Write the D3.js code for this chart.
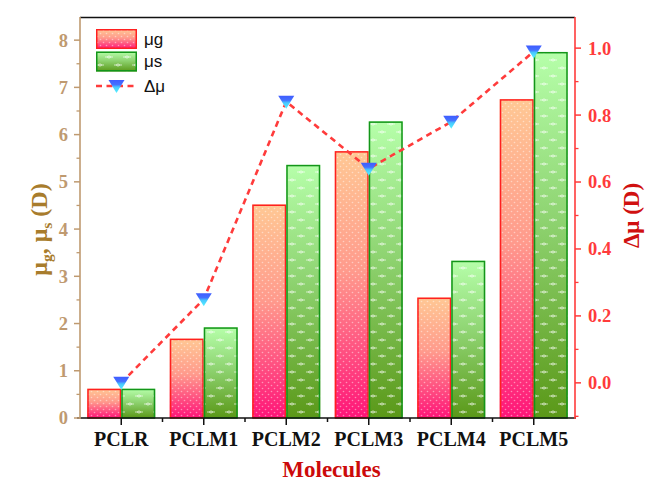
<!DOCTYPE html>
<html>
<head>
<meta charset="utf-8">
<script src="https://cdn.jsdelivr.net/npm/d3@7"></script>
<style>
  html, body { margin: 0; padding: 0; background: #fff; }
  svg { display: block; }
</style>
</head>
<body>
<svg id="chart" width="648" height="486"></svg>
<script>
// Dipole moments of the molecules (Debye)
const categories = ["PCLR", "PCLM1", "PCLM2", "PCLM3", "PCLM4", "PCLM5"];
const muG = [0.62, 1.68, 4.52, 5.65, 2.55, 6.75];
const muS = [0.62, 1.92, 5.36, 6.28, 3.33, 7.75];
const deltaMu = [0.00, 0.25, 0.84, 0.64, 0.78, 0.99];
const leftTicks = [0, 1, 2, 3, 4, 5, 6, 7, 8];
const rightTicks = [0.0, 0.2, 0.4, 0.6, 0.8, 1.0];
const seriesNames = ["μg", "μs"];

const svg = d3.select("#chart");
const L = 80, R = 575, T = 17, B = 418;
const serif = "'Liberation Serif', 'Times New Roman', serif";
const tan = "#bf9a70";
const red = "#ff3b3b";

const x = d3.scaleBand().domain(categories).range([L, R]).paddingInner(0.176).paddingOuter(0.088);
const xs = d3.scaleBand().domain(seriesNames).range([0, x.bandwidth()]);
const yL = d3.scaleLinear().domain([0, 8.49]).range([B, T]);
const yR = d3.scaleLinear().domain([-0.105, 1.093]).range([B, T]);

// ----- gradients and textures -----
const defs = svg.append("defs");
function vgrad(id, stops) {
  const g = defs.append("linearGradient").attr("id", id)
    .attr("x1", 0).attr("y1", 0).attr("x2", 0).attr("y2", 1);
  stops.forEach(([o, c]) => g.append("stop").attr("offset", o).attr("stop-color", c));
}
vgrad("gradG", [[0, "#ffc894"], [0.45, "#ff9a8c"], [1, "#ff1478"]]);
vgrad("gradS", [[0, "#b6ffaa"], [0.45, "#8fd472"], [1, "#5a9818"]]);
vgrad("gradTri", [[0, "#3f5cff"], [0.35, "#4470ff"], [0.55, "#48c8ff"], [1, "#55f2ff"]]);

const pDots = defs.append("pattern").attr("id", "dotsG")
  .attr("patternUnits", "userSpaceOnUse").attr("width", 6).attr("height", 6);
pDots.append("circle").attr("cx", 1.5).attr("cy", 1.5).attr("r", 0.8).attr("fill", "#fff").attr("opacity", 0.45);
pDots.append("circle").attr("cx", 4.5).attr("cy", 4.5).attr("r", 0.8).attr("fill", "#fff").attr("opacity", 0.45);

const pDash = defs.append("pattern").attr("id", "dashS")
  .attr("patternUnits", "userSpaceOnUse").attr("width", 18).attr("height", 16);
[[4, 4], [13, 12]].forEach(([cx, cy]) => {
  pDash.append("line").attr("x1", cx - 4).attr("x2", cx + 4).attr("y1", cy).attr("y2", cy)
    .attr("stroke", "#fff").attr("stroke-width", 0.9).attr("opacity", 0.7);
  pDash.append("path").attr("d", `M${cx - 1.8},${cy}L${cx},${cy - 1.3}L${cx + 1.8},${cy}L${cx},${cy + 1.3}Z`)
    .attr("fill", "none").attr("stroke", "#fff").attr("stroke-width", 0.7).attr("opacity", 0.75);
});

// ----- bars -----
const rows = categories.map((c, i) => ({ c, g: muG[i], s: muS[i], d: deltaMu[i] }));
const barSpec = [
  { key: "μg", val: r => r.g, fill: "url(#gradG)", tex: "url(#dotsG)", stroke: "#ff2020" },
  { key: "μs", val: r => r.s, fill: "url(#gradS)", tex: "url(#dashS)", stroke: "#13951a" }
];
const bars = svg.append("g");
barSpec.forEach(sp => {
  const g = bars.append("g");
  rows.forEach(r => {
    const bx = x(r.c) + xs(sp.key), bw = xs.bandwidth();
    const by = yL(sp.val(r)), bh = yL(0) - yL(sp.val(r));
    g.append("rect").attr("x", bx).attr("y", by).attr("width", bw).attr("height", bh).attr("fill", sp.fill);
    g.append("rect").attr("x", bx).attr("y", by).attr("width", bw).attr("height", bh).attr("fill", sp.tex);
    g.append("rect").attr("x", bx + 0.75).attr("y", by + 0.75).attr("width", bw - 1.5).attr("height", Math.max(0, bh - 0.75))
      .attr("fill", "none").attr("stroke", sp.stroke).attr("stroke-width", 1.5);
  });
});

// ----- Δμ line with markers -----
const cx = c => x(c) + x.bandwidth() / 2;
const line = d3.line().x(r => cx(r.c)).y(r => yR(r.d));
svg.append("path").datum(rows).attr("d", line)
  .attr("fill", "none").attr("stroke", red).attr("stroke-width", 2.6).attr("stroke-dasharray", "6,4.5");
const tri = "M-8,-6L8,-6L0,7Z";
svg.append("g").selectAll("path").data(rows).join("path")
  .attr("transform", r => `translate(${cx(r.c)},${yR(r.d)})`)
  .attr("d", tri).attr("fill", "url(#gradTri)");

// ----- axes -----
// top frame
svg.append("line").attr("x1", L).attr("x2", R).attr("y1", T + 0.5).attr("y2", T + 0.5)
  .attr("stroke", "#111").attr("stroke-width", 1.5);

// bottom axis
const xAxis = svg.append("g").attr("transform", `translate(0,${B})`);
xAxis.append("line").attr("x1", L - 3).attr("x2", R + 1).attr("stroke", "#111").attr("stroke-width", 1.6);
xAxis.selectAll(".maj").data(categories).join("line")
  .attr("x1", d => cx(d)).attr("x2", d => cx(d)).attr("y1", 0).attr("y2", 7)
  .attr("stroke", "#111").attr("stroke-width", 1.5);
xAxis.selectAll(".min").data(categories.slice(1)).join("line")
  .attr("x1", d => x(d) - x.step() * x.paddingInner() / 2).attr("x2", d => x(d) - x.step() * x.paddingInner() / 2)
  .attr("y1", 0).attr("y2", 4).attr("stroke", "#111").attr("stroke-width", 1.5);
xAxis.selectAll("text").data(categories).join("text")
  .attr("x", d => cx(d)).attr("y", 28).attr("text-anchor", "middle")
  .attr("font-family", serif).attr("font-weight", "bold").attr("font-size", 20).attr("fill", "#111")
  .text(d => d);

// left axis
const lAxis = svg.append("g").attr("transform", `translate(${L},0)`);
lAxis.append("line").attr("y1", T).attr("y2", B + 1).attr("stroke", tan).attr("stroke-width", 1.6);
lAxis.selectAll(".maj").data(leftTicks).join("line")
  .attr("x1", 0).attr("x2", -6).attr("y1", d => yL(d)).attr("y2", d => yL(d))
  .attr("stroke", tan).attr("stroke-width", 1.5);
lAxis.selectAll(".min").data(d3.range(0.5, 8.5, 1)).join("line")
  .attr("x1", 0).attr("x2", -3.5).attr("y1", d => yL(d)).attr("y2", d => yL(d))
  .attr("stroke", tan).attr("stroke-width", 1.3);
lAxis.selectAll("text").data(leftTicks).join("text")
  .attr("x", -12).attr("y", d => yL(d)).attr("dy", "0.35em").attr("text-anchor", "end")
  .attr("font-family", serif).attr("font-weight", "bold").attr("font-size", 18.5).attr("fill", tan)
  .text(d => d);

// right axis
const rAxis = svg.append("g").attr("transform", `translate(${R},0)`);
rAxis.append("line").attr("y1", T).attr("y2", B + 1).attr("stroke", red).attr("stroke-width", 1.6);
rAxis.selectAll(".maj").data(rightTicks).join("line")
  .attr("x1", 0).attr("x2", 6).attr("y1", d => yR(d)).attr("y2", d => yR(d))
  .attr("stroke", red).attr("stroke-width", 1.5);
rAxis.selectAll(".min").data(d3.range(-0.1, 1.05, 0.2)).join("line")
  .attr("x1", 0).attr("x2", 3.5).attr("y1", d => yR(d)).attr("y2", d => yR(d))
  .attr("stroke", red).attr("stroke-width", 1.3);
rAxis.selectAll("text").data(rightTicks).join("text")
  .attr("x", 13).attr("y", d => yR(d)).attr("dy", "0.35em").attr("text-anchor", "start")
  .attr("font-family", serif).attr("font-weight", "bold").attr("font-size", 18.5).attr("fill", red)
  .text(d => d3.format(".1f")(d));

// axis titles
svg.append("text").attr("x", (L + R) / 2 + 4).attr("y", 477).attr("text-anchor", "middle")
  .attr("font-family", serif).attr("font-weight", "bold").attr("font-size", 23).attr("fill", "#cc0a0a")
  .text("Molecules");

const lt = svg.append("text").attr("transform", `translate(47,${(T + B) / 2 + 12}) rotate(-90)`)
  .attr("text-anchor", "middle").attr("font-family", serif).attr("font-weight", "bold")
  .attr("font-size", 24).attr("fill", "#a87c2c");
lt.append("tspan").text("μ");
lt.append("tspan").attr("font-size", 15.5).attr("dy", 5).text("g");
lt.append("tspan").attr("dy", -5).text(", μ");
lt.append("tspan").attr("font-size", 15.5).attr("dy", 5).text("s");
lt.append("tspan").attr("dy", -5).text(" (D)");

svg.append("text").attr("transform", `translate(639,${(T + B) / 2 - 2}) rotate(-90)`)
  .attr("text-anchor", "middle").attr("font-family", serif).attr("font-weight", "bold")
  .attr("font-size", 23).attr("fill", "#d01010").text("Δμ (D)");

// ----- legend -----
const lg = svg.append("g").attr("transform", "translate(96,29)");
const legendItems = [
  { label: "μg", fill: "url(#gradG)", tex: "url(#dotsG)", stroke: "#ff2020" },
  { label: "μs", fill: "url(#gradS)", tex: "url(#dashS)", stroke: "#13951a" }
];
legendItems.forEach((it, i) => {
  const yy = i * 22.5;
  lg.append("rect").attr("x", 0).attr("y", yy).attr("width", 41).attr("height", 20).attr("fill", it.fill);
  lg.append("rect").attr("x", 0).attr("y", yy).attr("width", 41).attr("height", 20).attr("fill", it.tex);
  lg.append("rect").attr("x", 0.75).attr("y", yy + 0.75).attr("width", 39.5).attr("height", 18.5)
    .attr("fill", "none").attr("stroke", it.stroke).attr("stroke-width", 1.5);
  lg.append("text").attr("x", 48).attr("y", yy + 10).attr("dy", "0.35em")
    .attr("font-family", "'Liberation Sans', Arial, sans-serif").attr("font-size", 17).attr("fill", "#111")
    .text(it.label);
});
lg.append("line").attr("x1", 0).attr("x2", 41).attr("y1", 57).attr("y2", 57)
  .attr("stroke", red).attr("stroke-width", 2.6).attr("stroke-dasharray", "6,4.5");
lg.append("path").attr("transform", "translate(20.5,57)").attr("d", tri).attr("fill", "url(#gradTri)");
lg.append("text").attr("x", 48).attr("y", 57).attr("dy", "0.35em")
  .attr("font-family", "'Liberation Sans', Arial, sans-serif").attr("font-size", 17).attr("fill", "#111")
  .text("Δμ");
</script>
</body>
</html>
